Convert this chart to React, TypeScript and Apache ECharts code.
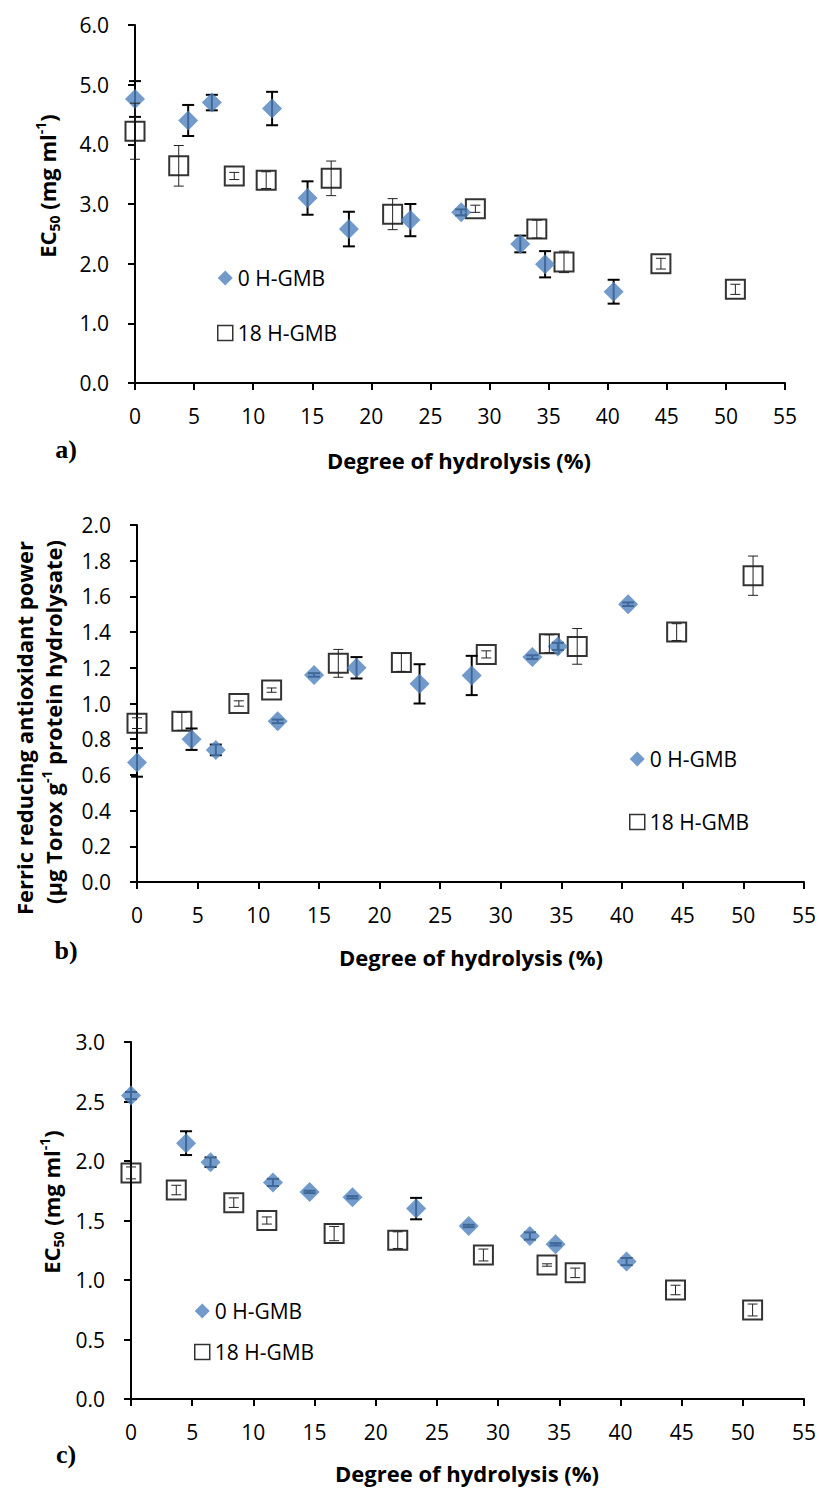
import React, { useEffect, useRef } from "react";
import * as echarts from "echarts";

const SERIES_NAMES = ["0 H-GMB", "18 H-GMB"];

// Degree of hydrolysis (%) for the two sample sets
const dh0 = [0, 4.5, 6.5, 11.6, 14.6, 18.1, 23.3, 27.6, 32.6, 34.7, 40.5];
const dh18 = [0, 3.7, 8.4, 11.1, 16.6, 21.8, 28.8, 34.0, 36.3, 44.5, 50.8];

// Panel a: EC50 (mg/ml)
const ecA0 = [4.76, 4.4, 4.7, 4.6, 3.1, 2.58, 2.73, 2.86, 2.33, 1.99, 1.53];
const errA0 = [0.3, 0.26, 0.13, 0.28, 0.28, 0.29, 0.27, 0.05, 0.14, 0.22, 0.2];
const ecA18 = [4.22, 3.64, 3.47, 3.4, 3.43, 2.83, 2.92, 2.58, 2.03, 2.0, 1.57];
const errA18 = [0.47, 0.34, 0.06, 0.14, 0.29, 0.26, 0.06, 0.15, 0.18, 0.09, 0.085];

// Panel b: FRAP
const frapB0 = [0.67, 0.8, 0.74, 0.9, 1.16, 1.2, 1.11, 1.157, 1.26, 1.32, 1.556];
const errB0 = [0.08, 0.06, 0.03, 0.01, 0.01, 0.06, 0.11, 0.11, 0.01, 0.02, 0.01];
const frapB18 = [0.89, 0.9, 1.0, 1.075, 1.225, 1.23, 1.275, 1.335, 1.32, 1.4, 1.716];
const errB18 = [0.03, 0.05, 0.015, 0.012, 0.078, 0.05, 0.02, 0.05, 0.1, 0.047, 0.11];

// Panel c: EC50 (mg/ml)
const ecC0 = [2.55, 2.15, 1.99, 1.82, 1.74, 1.695, 1.6, 1.454, 1.37, 1.3, 1.155];
const errC0 = [0.03, 0.1, 0.04, 0.03, 0.01, 0.01, 0.09, 0.01, 0.03, 0.01, 0.03];
const ecC18 = [1.9, 1.756, 1.65, 1.5, 1.39, 1.335, 1.21, 1.126, 1.06, 0.916, 0.748];
const errC18 = [0.05, 0.04, 0.04, 0.03, 0.06, 0.07, 0.05, 0.01, 0.04, 0.04, 0.05];

// Axis ranges [min, max, interval]
const xRange = [0, 55, 5];
const yRangeA = [0, 6, 1];
const yRangeB = [0, 2, 0.2];
const yRangeC = [0, 3, 0.5];

const X_TITLE = "Degree of hydrolysis (%)";
const PANEL_LETTERS = ["a)", "b)", "c)"];

const FONT = "Open Sans";
const BLUE = "#4F81BD";

const grids = [
  { left: 135, top: 25, width: 650, height: 358 },
  { left: 137, top: 525, width: 667, height: 357 },
  { left: 131, top: 1042, width: 673, height: 357 },
];

function errBar(color: string, lw: number, cap: number) {
  return (params: any, api: any) => {
    const x = api.value(0);
    const y = api.value(1);
    const e = api.value(2);
    const p1 = api.coord([x, y + e]);
    const p2 = api.coord([x, y - e]);
    const h = cap / 2;
    const style = { stroke: color, lineWidth: lw, fill: "none" };
    return {
      type: "group",
      children: [
        { type: "line", shape: { x1: p1[0], y1: p1[1], x2: p2[0], y2: p2[1] }, style },
        { type: "line", shape: { x1: p1[0] - h, y1: p1[1], x2: p1[0] + h, y2: p1[1] }, style },
        { type: "line", shape: { x1: p2[0] - h, y1: p2[1], x2: p2[0] + h, y2: p2[1] }, style },
      ],
    };
  };
}

function zip3(xs: number[], ys: number[], es: number[]) {
  return xs.map((x, i) => [x, ys[i], es[i]]);
}
function zip2(xs: number[], ys: number[]) {
  return xs.map((x, i) => [x, ys[i]]);
}

function panelSeries(idx: number, y0: number[], e0: number[], y18: number[], e18: number[]) {
  return [
    {
      name: "err0_" + idx,
      type: "custom",
      xAxisIndex: idx,
      yAxisIndex: idx,
      encode: { x: 0, y: 1 },
      data: zip3(dh0, y0, e0),
      renderItem: errBar("#000", 2, 12),
      z: 1,
      silent: true,
    },
    {
      name: "err18_" + idx,
      type: "custom",
      xAxisIndex: idx,
      yAxisIndex: idx,
      encode: { x: 0, y: 1 },
      data: zip3(dh18, y18, e18),
      renderItem: errBar("#222", 1, 10),
      z: 4,
      silent: true,
    },
    {
      name: SERIES_NAMES[1],
      type: "scatter",
      xAxisIndex: idx,
      yAxisIndex: idx,
      symbol: "rect",
      symbolSize: 19,
      data: zip2(dh18, y18),
      itemStyle: { color: "rgba(255,255,255,0)", borderColor: "#000", borderWidth: 2 },
      z: 2,
    },
    {
      name: SERIES_NAMES[0],
      type: "scatter",
      xAxisIndex: idx,
      yAxisIndex: idx,
      symbol: "diamond",
      symbolSize: 20,
      data: zip2(dh0, y0),
      itemStyle: { color: BLUE },
      z: 3,
    },
  ];
}

const axisLine = { show: true, onZero: false, lineStyle: { color: "#000", width: 2 } };
const axisTick = { show: true, inside: false, length: 7, lineStyle: { color: "#000", width: 2 } };

function xAxisFor(i: number) {
  return {
    type: "value",
    gridIndex: i,
    min: xRange[0],
    max: xRange[1],
    interval: xRange[2],
    axisLine,
    axisTick,
    splitLine: { show: false },
    axisLabel: { fontFamily: FONT, fontSize: 21, color: "#000", margin: 22 },
  };
}

function yAxisFor(i: number, r: number[]) {
  return {
    type: "value",
    gridIndex: i,
    min: r[0],
    max: r[1],
    interval: r[2],
    axisLine,
    axisTick,
    splitLine: { show: false },
    axisLabel: {
      fontFamily: FONT,
      fontSize: 21,
      color: "#000",
      margin: 26,
      formatter: (v: number) => v.toFixed(1),
    },
  };
}

const rich = {
  b: { fontFamily: FONT, fontWeight: "bold", fontSize: 22, lineHeight: 28, fill: "#000" },
  sub: { fontFamily: FONT, fontWeight: "bold", fontSize: 14, lineHeight: 18, verticalAlign: "bottom", fill: "#000" },
  sup: { fontFamily: FONT, fontWeight: "bold", fontSize: 14, lineHeight: 18, verticalAlign: "top", fill: "#000" },
};

function vText(x: number, y: number, text: string) {
  return {
    type: "text",
    x,
    y,
    rotation: Math.PI / 2,
    style: { text, rich, align: "center", verticalAlign: "middle", fill: "#000" },
  };
}

function hText(x: number, y: number, text: string, font: string) {
  return {
    type: "text",
    x,
    y,
    style: { text, font, fill: "#000", align: "center", verticalAlign: "middle" },
  };
}

function legendFor(left: number, top: number, gap: number) {
  return {
    left,
    top,
    orient: "vertical",
    itemGap: gap,
    itemWidth: 15,
    itemHeight: 15,
    selectedMode: false,
    data: [
      { name: SERIES_NAMES[0] },
      { name: SERIES_NAMES[1], itemStyle: { borderWidth: 1.5, borderColor: "#000", color: "rgba(255,255,255,0)" } },
    ],
    textStyle: { fontFamily: FONT, fontSize: 21, color: "#000", lineHeight: 22 },
  };
}

export default function App() {
  const ref = useRef<HTMLDivElement>(null);

  useEffect(() => {
    document.body.style.margin = "0";
    if (!ref.current) return;
    const chart = echarts.init(ref.current, undefined, { renderer: "svg" });
    const titleBold = `bold 22px "${FONT}"`;
    const letterFont = 'bold 26px "Liberation Serif", "Times New Roman", serif';
    chart.setOption({
      animation: false,
      grid: grids,
      xAxis: [xAxisFor(0), xAxisFor(1), xAxisFor(2)],
      yAxis: [yAxisFor(0, yRangeA), yAxisFor(1, yRangeB), yAxisFor(2, yRangeC)],
      legend: [legendFor(212, 262, 33), legendFor(624, 743, 41), legendFor(189, 1295, 19)],
      series: [
        ...panelSeries(0, ecA0, errA0, ecA18, errA18),
        ...panelSeries(1, frapB0, errB0, frapB18, errB18),
        ...panelSeries(2, ecC0, errC0, ecC18, errC18),
      ],
      graphic: [
        vText(47, 186, "{b|EC}{sub|50}{b| (mg ml}{sup|-1}{b|)}"),
        vText(24, 728, "{b|Ferric reducing antioxidant power}"),
        vText(53, 722, "{b|(μg Torox g}{sup|-1}{b| protein hydrolysate)}"),
        vText(51, 1202, "{b|EC}{sub|50}{b| (mg ml}{sup|-1}{b|)}"),
        hText(459, 460, X_TITLE, titleBold),
        hText(471, 957, X_TITLE, titleBold),
        hText(467, 1473, X_TITLE, titleBold),
        hText(66, 449, PANEL_LETTERS[0], letterFont),
        hText(66, 950, PANEL_LETTERS[1], letterFont),
        hText(66, 1454, PANEL_LETTERS[2], letterFont),
      ],
    });
    return () => chart.dispose();
  }, []);

  return (
    <div
      ref={ref}
      style={{ position: "absolute", left: 0, top: 0, width: 819, height: 1488 }}
    />
  );
}
